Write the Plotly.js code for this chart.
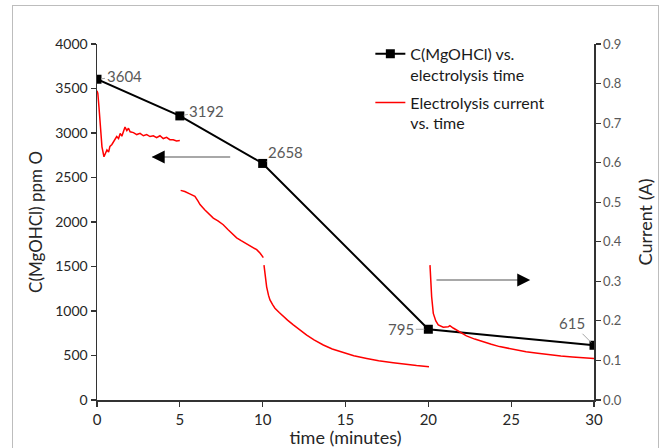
<!DOCTYPE html>
<html>
<head>
<meta charset="utf-8">
<script src="https://cdn.plot.ly/plotly-3.0.1.min.js"></script>
<style>
  html, body { margin: 0; padding: 0; background: #ffffff; }
  #wrap { position: relative; width: 665px; height: 448px; overflow: hidden; }
  #chart { position: absolute; left: 0; top: 0; width: 665px; height: 448px; }
  #frame { position: absolute; left: 12px; top: 5px; width: 645px; height: 460px;
           border: 1.5px solid #bdbdbd; pointer-events: none; }
</style>
</head>
<body>
<div id="wrap">
  <div id="chart"></div>
  <div id="frame"></div>
</div>
<script>
// Concentration series
const concTime = [0, 5, 10, 20, 30];
const concValue = [3604, 3192, 2658, 795, 615];
const concLabels = ["3604", "3192", "2658", "795", "615"];

// Electrolysis current series (segments separated by null)
const currentTime = [
  0, 0.05, 0.12, 0.2, 0.3, 0.42, 0.5, 0.6, 0.7, 0.78, 0.9, 1.0, 1.1, 1.19, 1.3, 1.4, 1.5, 1.6, 1.69, 1.8, 1.9, 2.0,
  2.2, 2.4, 2.6, 2.8, 3.0, 3.2, 3.4, 3.6, 3.8, 4.0, 4.2, 4.4, 4.6, 4.8, 5.0,
  null,
  5.05, 5.3, 5.6, 5.91, 6.1, 6.22, 6.5, 6.8, 7.02, 7.3, 7.62, 7.9, 8.15, 8.43, 8.7, 9.0, 9.23, 9.45, 9.64, 9.85, 10.04,
  null,
  10.08, 10.15, 10.24, 10.35, 10.44, 10.6, 10.74, 11.0, 11.24, 11.5, 11.85, 12.2, 12.66, 13.1, 13.66, 14.2, 14.86,
  15.5, 16.28, 17.0, 17.88, 18.6, 19.29, 20.04,
  null,
  20.1, 20.15, 20.2, 20.3, 20.45, 20.6, 20.9, 21.2, 21.3, 21.5, 21.7, 22.0, 22.3, 22.8, 23.3, 23.8, 24.3, 25.1, 25.9,
  26.6, 27.3, 28.0, 28.7, 29.4, 30.0
];
const currentValue = [
  0.782, 0.775, 0.74, 0.69, 0.64, 0.615, 0.622, 0.632, 0.627, 0.641, 0.646, 0.652, 0.661, 0.666, 0.661, 0.674, 0.667, 0.681, 0.690, 0.681, 0.687, 0.678,
  0.676, 0.671, 0.674, 0.668, 0.671, 0.666, 0.668, 0.663, 0.668, 0.661, 0.664, 0.658, 0.658, 0.655, 0.656,
  null,
  0.530, 0.527, 0.521, 0.515, 0.503, 0.494, 0.481, 0.469, 0.460, 0.453, 0.443, 0.431, 0.421, 0.410, 0.403, 0.395, 0.389, 0.384, 0.380, 0.371, 0.360,
  null,
  0.341, 0.31, 0.286, 0.265, 0.253, 0.241, 0.232, 0.221, 0.211, 0.202, 0.190, 0.178, 0.164, 0.152, 0.139, 0.129, 0.120,
  0.112, 0.105, 0.099, 0.094, 0.090, 0.087, 0.084,
  null,
  0.341, 0.30, 0.261, 0.219, 0.200, 0.190, 0.184, 0.185, 0.188, 0.182, 0.177, 0.170, 0.162, 0.154, 0.147, 0.141, 0.135, 0.128, 0.122,
  0.118, 0.114, 0.111, 0.109, 0.107, 0.105
];

const xTicks = [0, 5, 10, 15, 20, 25, 30];
const yLeftTicks = [0, 500, 1000, 1500, 2000, 2500, 3000, 3500, 4000];
const yRightTicks = [0, 0.1, 0.2, 0.3, 0.4, 0.5, 0.6, 0.7, 0.8, 0.9];

const FONT = "Lato, 'Open Sans', sans-serif";

// Label offsets (pixels) for data labels
const labelOffsets = [[27, -3], [27, -5], [23, -11], [-27, 0], [-22, -22]];

const annotations = concLabels.map((t, i) => ({
  x: concTime[i], y: concValue[i], xref: 'x', yref: 'y',
  text: t, showarrow: true, arrowhead: 0, arrowwidth: 1, arrowcolor: '#a6a6a6',
  ax: labelOffsets[i][0], ay: labelOffsets[i][1], standoff: 4, startstandoff: 0,
  font: {family: FONT, size: 15, color: '#595959'}
}));

// Direction arrows
annotations.push(
  {x: 3.35, y: 2730, ax: 8.13, ay: 2730, xref: 'x', yref: 'y', axref: 'x', ayref: 'y',
   text: '', showarrow: true, arrowhead: 0, arrowwidth: 1.5, arrowcolor: '#8c8c8c'},
  {x: 3.3, y: 2730, ax: 4.0, ay: 2730, xref: 'x', yref: 'y', axref: 'x', ayref: 'y',
   text: '', showarrow: true, arrowhead: 2, arrowsize: 1.3, arrowwidth: 2, arrowcolor: '#000000'},
  {x: 25.95, y: 1348, ax: 20.4, ay: 1348, xref: 'x', yref: 'y', axref: 'x', ayref: 'y',
   text: '', showarrow: true, arrowhead: 0, arrowwidth: 1.5, arrowcolor: '#8c8c8c'},
  {x: 26.15, y: 1348, ax: 25.5, ay: 1348, xref: 'x', yref: 'y', axref: 'x', ayref: 'y',
   text: '', showarrow: true, arrowhead: 2, arrowsize: 1.3, arrowwidth: 2, arrowcolor: '#000000'}
);

const traces = [
  {
    x: concTime, y: concValue, type: 'scatter', mode: 'lines+markers',
    name: 'C(MgOHCl) vs.<br>electrolysis time', legendgroup: 'a',
    line: {color: '#000000', width: 2},
    marker: {symbol: 'square', size: 9, color: '#000000'},
    yaxis: 'y'
  },
  {
    x: currentTime, y: currentValue, type: 'scatter', mode: 'lines',
    name: 'Electrolysis current<br>vs. time', legendgroup: 'b',
    line: {color: '#ff0000', width: 1.5}, connectgaps: false,
    yaxis: 'y2'
  }
];

const axisCommon = {
  showgrid: false, zeroline: false, showline: true, linecolor: '#333333', linewidth: 1.5,
  ticks: 'outside', ticklen: 5, tickwidth: 1.2, tickcolor: '#333333'
};

const layout = {
  width: 665, height: 448,
  margin: {l: 97, r: 71, t: 44, b: 48},
  paper_bgcolor: '#ffffff', plot_bgcolor: '#ffffff',
  font: {family: FONT, color: '#262626'},
  showlegend: true,
  legend: {
    x: 0.55, y: 1.02, xanchor: 'left', yanchor: 'top',
    font: {family: FONT, size: 16, color: '#1a1a1a'},
    itemwidth: 30, valign: 'top', tracegroupgap: 4, bgcolor: 'rgba(0,0,0,0)'
  },
  xaxis: Object.assign({}, axisCommon, {
    range: [0, 30], tickvals: xTicks, ticktext: xTicks.map(String),
    tickfont: {family: FONT, size: 15, color: '#262626'},
    title: {text: 'time (minutes)', font: {family: FONT, size: 18, color: '#262626'}, standoff: 2},
    automargin: false
  }),
  yaxis: Object.assign({}, axisCommon, {
    range: [0, 4000], tickvals: yLeftTicks, ticktext: yLeftTicks.map(String),
    tickfont: {family: FONT, size: 14, color: '#262626'},
    title: {text: 'C(MgOHCl) ppm O', font: {family: FONT, size: 17, color: '#262626'}, standoff: 8},
    automargin: false
  }),
  yaxis2: Object.assign({}, axisCommon, {
    overlaying: 'y', side: 'right', anchor: 'x',
    range: [0, 0.9], tickvals: yRightTicks, ticktext: yRightTicks.map(v => v.toFixed(1)),
    tickfont: {family: FONT, size: 13, color: '#595959'},
    title: {text: 'Current (A)', font: {family: FONT, size: 18, color: '#262626'}, standoff: 18},
    automargin: false
  }),
  annotations: annotations
};

Plotly.newPlot('chart', traces, layout, {displayModeBar: false, staticPlot: true});
</script>
</body>
</html>
